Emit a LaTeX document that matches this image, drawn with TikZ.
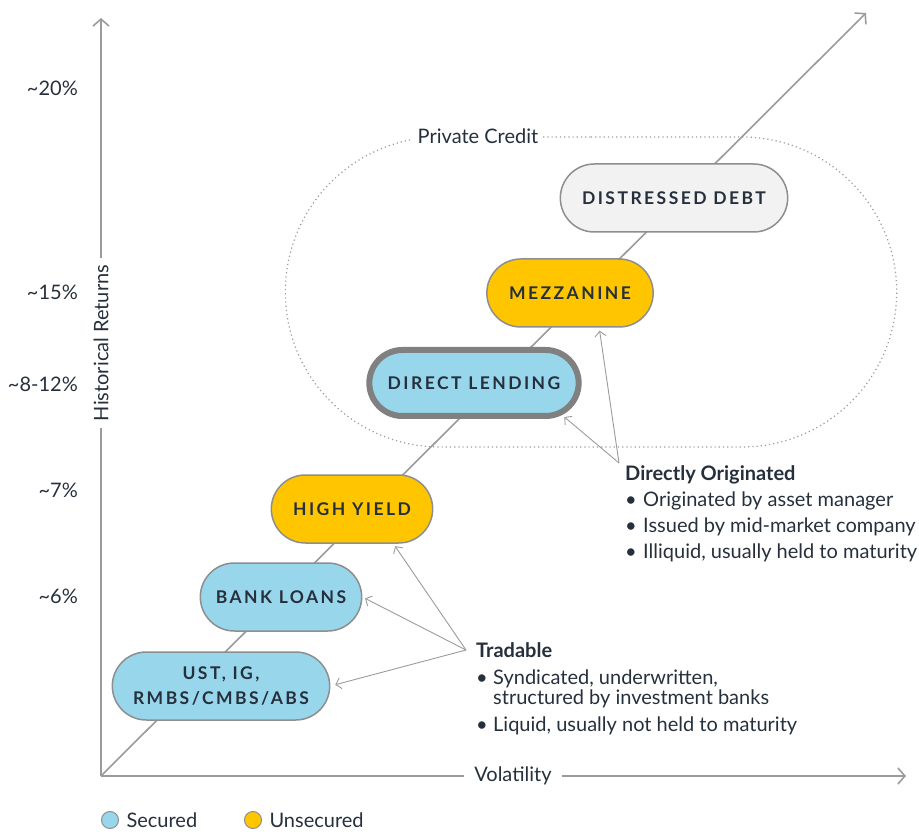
\documentclass[tikz,border=0pt]{standalone}
\usepackage{fontspec}
\setmainfont{Lato}
\newfontfamily\pillfont[LetterSpace=14]{Lato}
\usetikzlibrary{shapes.misc, arrows.meta, positioning}
\definecolor{ink}{HTML}{26303C}
\definecolor{axisgray}{HTML}{9B9B9B}
\definecolor{pillline}{HTML}{8E8E8E}
\definecolor{secblue}{HTML}{98D6EC}
\definecolor{unsecyellow}{HTML}{FFC600}
\definecolor{ddgray}{HTML}{F2F2F2}
\tikzset{
  pill/.style = {rounded rectangle, draw=pillline, line width=1.5pt, minimum height=68pt,
    text=ink, align=center, font=\pillfont\bfseries\fontsize{17.5}{25}\selectfont},
  sec/.style = {pill, fill=secblue},
  unsec/.style = {pill, fill=unsecyellow},
  axis/.style = {draw=axisgray, line width=1.6pt, -{Straight Barb[length=7pt, width=16pt]}},
  callout/.style = {draw=axisgray, line width=0.9pt, shorten >=3pt, -{Straight Barb[length=5pt, width=11pt]}},
  label/.style = {text=ink, font=\fontsize{20}{20}\selectfont},
  tick/.style = {label, anchor=east, inner sep=0pt},
  block/.style = {label, anchor=north west, align=left, inner sep=0pt}
}
\begin{document}
\begin{tikzpicture}[x=1pt, y=-1pt]
  \useasboundingbox (0,0) rectangle (919,834);
  % private credit region
  \node[rounded rectangle, draw=axisgray, line width=1.2pt, dash pattern=on 1.2pt off 3pt,
    minimum width=618pt, minimum height=310pt] (private) at (591,292) {};
  \node[label, fill=white, inner sep=5pt] (privlabel) at (478,136) {Private Credit};
  % axes
  \coordinate (origin) at (101,776);
  \coordinate (ytip) at (101,18);
  \coordinate (xtip) at (906,776);
  \coordinate (dtip) at (866,13);
  \draw[axis] (origin) -- (ytip);
  \draw[axis] (origin) -- (xtip);
  \draw[axis] (origin) -- (dtip);
  \node[label, fill=white, rotate=90, inner sep=7pt] (yname) at (101,343) {Historical Returns};
  \node[label, fill=white, inner sep=10pt] (xname) at (513,776) {Volatility};
  \foreach \name/\lab/\y in {t20/20/88, t15/15/292, t8/8-12/384, t7/7/490, t6/6/596}
    \node[tick] (\name) at (78,\y) {\textasciitilde\lab\%};
  % asset classes
  \node[sec, minimum width=224pt] (ust) at (221,686) {UST, IG,\\RMBS/CMBS/ABS};
  \node[sec, minimum width=168pt] (bank) at (281,597) {BANK LOANS};
  \node[unsec, minimum width=168pt] (hy) at (352,509) {HIGH YIELD};
  \node[sec, draw=pillline!90!black, line width=6pt, minimum width=216pt, minimum height=66pt] (dl) at (474,383) {DIRECT LENDING};
  \node[unsec, minimum width=173pt] (mezz) at (570,293) {MEZZANINE};
  \node[pill, fill=ddgray, minimum width=234pt] (dd) at (674,198) {DISTRESSED DEBT};
  % notes
  \node[block] (direct) at (625,465) {\textbf{Directly Originated}\\[6pt]
    \makebox[18pt][l]{\textbullet}Originated by asset manager\\[6pt]
    \makebox[18pt][l]{\textbullet}Issued by mid-market company\\[6pt]
    \makebox[18pt][l]{\textbullet}Illiquid, usually held to maturity};
  \node[block] (tradable) at (476,642) {\textbf{Tradable}\\[7pt]
    \makebox[17pt][l]{\textbullet}Syndicated, underwritten,\\
    \hspace*{17pt}structured by investment banks\\[7pt]
    \makebox[17pt][l]{\textbullet}Liquid, usually not held to maturity};
  \coordinate (directpt) at (619,463);
  \coordinate (tradpt) at (466,650);
  \draw[callout] (directpt) -- (dl.-20);
  \draw[callout] (directpt) -- (mezz.-50);
  \draw[callout] (tradpt) -- (hy.-40);
  \draw[callout] (tradpt) -- (bank.east);
  \draw[callout, shorten >=5pt] (tradpt) -- (ust.east);
  % legend
  \node[circle, draw=pillline, line width=1pt, fill=secblue, minimum size=17pt, inner sep=0pt] (legsec) at (110,820) {};
  \node[label, right=4pt of legsec] (legsectext) {Secured};
  \node[circle, draw=pillline, line width=1pt, fill=unsecyellow, minimum size=17pt, inner sep=0pt] (legunsec) at (253,820) {};
  \node[label, right=4pt of legunsec] (legunsectext) {Unsecured};
\end{tikzpicture}
\end{document}
